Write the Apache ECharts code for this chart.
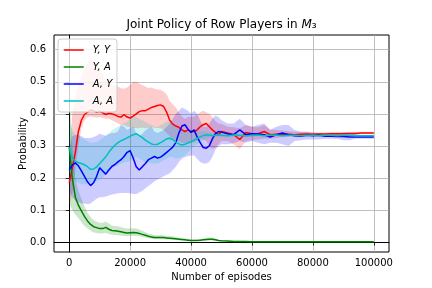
<!DOCTYPE html>
<html><head><meta charset="utf-8">
<script src="https://cdn.jsdelivr.net/npm/echarts@6/dist/echarts.min.js"></script>
<style>html,body{margin:0;padding:0;background:#fff}#c{width:432px;height:288px}</style>
</head><body><div id="c"></div>
<script>
const episodes = [0,1000,2000,3000,4000,5000,6000,7000,8000,9000,10000,11000,12000,13000,14000,15000,16000,17000,18000,19000,20000,21000,22000,23000,24000,25000,26000,27000,28000,29000,30000,31000,32000,33000,34000,35000,36000,37000,38000,39000,40000,41000,42000,43000,44000,45000,46000,47000,48000,49000,50000,52000,54000,56000,58000,60000,62000,64000,66000,68000,70000,72000,74000,76000,78000,80000,82000,84000,86000,88000,90000,92000,94000,96000,98000,100000];

// Y,Y (red)
const yyMean = [0.185,0.23,0.28,0.345,0.38,0.398,0.405,0.412,0.41,0.405,0.408,0.403,0.398,0.402,0.4,0.397,0.392,0.39,0.398,0.39,0.387,0.393,0.4,0.407,0.41,0.41,0.415,0.42,0.423,0.426,0.428,0.423,0.405,0.38,0.368,0.362,0.358,0.35,0.345,0.35,0.345,0.345,0.35,0.36,0.366,0.37,0.36,0.35,0.342,0.335,0.345,0.34,0.335,0.32,0.342,0.338,0.338,0.345,0.335,0.336,0.337,0.336,0.335,0.336,0.337,0.336,0.337,0.337,0.338,0.338,0.338,0.339,0.339,0.34,0.34,0.34];
const yyLow = [0.11,0.15,0.22,0.3,0.355,0.38,0.39,0.392,0.39,0.388,0.39,0.388,0.385,0.385,0.38,0.375,0.37,0.365,0.365,0.36,0.358,0.355,0.355,0.356,0.357,0.355,0.356,0.358,0.357,0.356,0.355,0.35,0.34,0.33,0.322,0.318,0.314,0.31,0.308,0.31,0.31,0.31,0.315,0.32,0.32,0.315,0.3,0.29,0.295,0.305,0.315,0.315,0.305,0.29,0.315,0.318,0.32,0.322,0.322,0.325,0.327,0.328,0.33,0.331,0.332,0.332,0.333,0.333,0.334,0.334,0.335,0.335,0.335,0.336,0.336,0.336];
const yyHigh = [0.26,0.4,0.45,0.49,0.515,0.54,0.56,0.57,0.565,0.55,0.535,0.52,0.505,0.492,0.487,0.49,0.485,0.48,0.478,0.482,0.49,0.5,0.5,0.495,0.49,0.485,0.48,0.482,0.478,0.476,0.475,0.47,0.46,0.44,0.43,0.42,0.405,0.392,0.385,0.39,0.39,0.392,0.398,0.405,0.41,0.405,0.4,0.39,0.378,0.37,0.368,0.36,0.358,0.355,0.365,0.36,0.358,0.365,0.352,0.35,0.348,0.346,0.344,0.343,0.343,0.342,0.342,0.342,0.343,0.343,0.343,0.343,0.344,0.344,0.344,0.344];

// Y,A (green)
const yaMean = [0.295,0.2,0.14,0.115,0.097,0.08,0.066,0.055,0.048,0.045,0.042,0.042,0.046,0.04,0.036,0.035,0.034,0.032,0.03,0.028,0.029,0.03,0.029,0.027,0.024,0.021,0.018,0.016,0.014,0.014,0.014,0.014,0.013,0.012,0.011,0.01,0.009,0.008,0.007,0.006,0.005,0.005,0.005,0.006,0.007,0.008,0.009,0.009,0.007,0.005,0.004,0.003,0.002,0.002,0.002,0.001,0.001,0.001,0.001,0.001,0.001,0.001,0.001,0.001,0.001,0.001,0.001,0.001,0.001,0.001,0.001,0.001,0.001,0.001,0.001,0.001];
const yaLow = [0.12,0.1,0.085,0.075,0.062,0.05,0.042,0.035,0.03,0.028,0.027,0.027,0.028,0.025,0.023,0.022,0.021,0.02,0.019,0.018,0.019,0.02,0.019,0.018,0.016,0.014,0.012,0.01,0.009,0.009,0.009,0.009,0.008,0.008,0.007,0.006,0.006,0.005,0.004,0.003,0.003,0.003,0.003,0.003,0.004,0.004,0.005,0.005,0.004,0.003,0.002,0.001,0.001,0.001,0.001,0,0,0,0,0,0,0,0,0,0,0,0,0,0,0,0,0,0,0,0,0];
const yaHigh = [0.47,0.3,0.2,0.16,0.135,0.112,0.092,0.078,0.068,0.063,0.06,0.06,0.064,0.058,0.052,0.05,0.049,0.047,0.044,0.042,0.042,0.043,0.042,0.039,0.035,0.031,0.027,0.024,0.021,0.021,0.021,0.021,0.02,0.019,0.018,0.016,0.014,0.012,0.011,0.01,0.008,0.008,0.008,0.009,0.011,0.013,0.014,0.014,0.011,0.008,0.006,0.005,0.004,0.004,0.003,0.002,0.002,0.002,0.002,0.002,0.002,0.002,0.002,0.002,0.002,0.002,0.002,0.002,0.002,0.002,0.002,0.002,0.002,0.002,0.002,0.002];

// A,Y (blue)
const ayMean = [0.225,0.24,0.247,0.238,0.222,0.205,0.188,0.176,0.185,0.205,0.232,0.222,0.212,0.225,0.236,0.242,0.25,0.257,0.267,0.28,0.285,0.262,0.235,0.225,0.235,0.245,0.257,0.262,0.267,0.262,0.265,0.272,0.28,0.288,0.296,0.31,0.34,0.362,0.366,0.352,0.342,0.35,0.328,0.31,0.295,0.293,0.3,0.322,0.338,0.345,0.343,0.338,0.335,0.35,0.335,0.338,0.337,0.335,0.328,0.335,0.34,0.335,0.332,0.33,0.333,0.332,0.333,0.33,0.33,0.329,0.329,0.328,0.328,0.328,0.328,0.328];
const ayLow = [0.16,0.14,0.13,0.125,0.12,0.12,0.118,0.12,0.128,0.135,0.14,0.14,0.142,0.145,0.148,0.15,0.152,0.153,0.153,0.153,0.152,0.15,0.15,0.155,0.16,0.168,0.175,0.182,0.19,0.195,0.2,0.205,0.21,0.215,0.225,0.235,0.25,0.26,0.265,0.268,0.27,0.27,0.26,0.25,0.245,0.245,0.25,0.265,0.288,0.3,0.305,0.305,0.308,0.315,0.31,0.315,0.31,0.305,0.31,0.31,0.305,0.3,0.315,0.318,0.32,0.32,0.32,0.322,0.322,0.322,0.318,0.318,0.322,0.322,0.322,0.322];
const ayHigh = [0.29,0.33,0.335,0.335,0.33,0.325,0.325,0.325,0.328,0.332,0.338,0.335,0.332,0.336,0.34,0.34,0.345,0.365,0.36,0.35,0.355,0.36,0.34,0.33,0.338,0.348,0.355,0.36,0.345,0.34,0.345,0.35,0.36,0.37,0.385,0.4,0.41,0.42,0.415,0.41,0.4,0.41,0.4,0.38,0.36,0.36,0.37,0.385,0.395,0.39,0.38,0.37,0.37,0.385,0.365,0.36,0.365,0.37,0.35,0.36,0.365,0.365,0.35,0.345,0.345,0.342,0.34,0.338,0.338,0.338,0.342,0.342,0.335,0.334,0.334,0.334];

// A,A (cyan)
const aaMean = [0.295,0.262,0.252,0.248,0.245,0.241,0.235,0.227,0.228,0.234,0.245,0.255,0.266,0.28,0.292,0.302,0.31,0.316,0.32,0.325,0.33,0.335,0.338,0.332,0.326,0.318,0.312,0.306,0.304,0.305,0.31,0.316,0.322,0.324,0.32,0.312,0.306,0.303,0.305,0.309,0.313,0.318,0.323,0.328,0.332,0.335,0.334,0.332,0.333,0.334,0.333,0.332,0.334,0.333,0.331,0.333,0.334,0.332,0.333,0.334,0.332,0.333,0.333,0.332,0.333,0.333,0.332,0.333,0.333,0.332,0.333,0.333,0.332,0.332,0.332,0.332];
const aaLow = [0.22,0.2,0.19,0.185,0.18,0.18,0.18,0.18,0.185,0.19,0.195,0.2,0.21,0.22,0.23,0.235,0.24,0.245,0.248,0.25,0.252,0.26,0.265,0.26,0.255,0.25,0.25,0.245,0.245,0.245,0.25,0.255,0.26,0.265,0.265,0.26,0.262,0.265,0.27,0.28,0.29,0.3,0.305,0.31,0.318,0.322,0.325,0.325,0.326,0.327,0.327,0.327,0.328,0.328,0.327,0.328,0.329,0.328,0.329,0.33,0.329,0.33,0.33,0.33,0.33,0.33,0.33,0.33,0.33,0.33,0.33,0.33,0.33,0.33,0.33,0.33];
const aaHigh = [0.38,0.35,0.335,0.33,0.325,0.32,0.315,0.31,0.31,0.312,0.318,0.325,0.332,0.34,0.348,0.355,0.36,0.365,0.37,0.375,0.385,0.39,0.39,0.385,0.38,0.375,0.37,0.365,0.36,0.36,0.365,0.37,0.375,0.375,0.37,0.36,0.355,0.35,0.35,0.35,0.35,0.348,0.347,0.346,0.345,0.343,0.342,0.34,0.34,0.339,0.339,0.338,0.339,0.338,0.337,0.338,0.338,0.337,0.337,0.337,0.336,0.336,0.336,0.335,0.336,0.336,0.335,0.335,0.336,0.335,0.335,0.335,0.335,0.335,0.335,0.335];

const seriesNames = ['Y, Y', 'Y, A', 'A, Y', 'A, A'];
const xTicks = [0, 20000, 40000, 60000, 80000, 100000];
const yTicks = [0.0, 0.1, 0.2, 0.3, 0.4, 0.5, 0.6];

const FONT = 'DejaVu Sans';
const colors = ['#ff0000', '#008000', '#0000ff', '#00bfbf'];
const fills = ['rgba(255,0,0,0.2)', 'rgba(0,128,0,0.2)', 'rgba(0,0,255,0.2)', 'rgba(0,191,191,0.2)'];
const means = [yyMean, yaMean, ayMean, aaMean];
const lows = [yyLow, yaLow, ayLow, aaLow];
const highs = [yyHigh, yaHigh, ayHigh, aaHigh];

function bandSeries(k) {
  const rows = episodes.map((e, i) => [e, lows[k][i], highs[k][i]]);
  return {
    type: 'custom', name: 'band' + k, z: 1, silent: true, animation: false,
    encode: { x: 0, y: [1, 2] },
    data: rows,
    renderItem: function (params, api) {
      if (params.dataIndex !== 0) return null;
      const pts = [];
      for (let i = 0; i < rows.length; i++) pts.push(api.coord([rows[i][0], rows[i][2]]));
      for (let i = rows.length - 1; i >= 0; i--) pts.push(api.coord([rows[i][0], rows[i][1]]));
      return { type: 'polygon', shape: { points: pts }, style: { fill: fills[k], stroke: null } };
    }
  };
}
function lineSeries(k) {
  return {
    type: 'line', name: seriesNames[k], z: 2, animation: false,
    symbol: 'none', showSymbol: false,
    data: episodes.map((e, i) => [e, means[k][i]]),
    lineStyle: { color: colors[k], width: 1.5 },
    itemStyle: { color: colors[k] }
  };
}

const chart = echarts.init(document.getElementById('c'), null, { renderer: 'canvas' });
chart.setOption({
  animation: false,
  backgroundColor: '#ffffff',
  grid: { left: 54, right: 43, top: 35, bottom: 36, show: true, borderColor: '#000', borderWidth: 1, backgroundColor: 'transparent' },
  graphic: [{
    type: 'text', x: 221.5, y: 25, z: 10,
    style: {
      text: '{a|Joint Policy of Row Players in }{m|M}{a|₃}',
      align: 'center', verticalAlign: 'middle',
      rich: {
        a: { fontFamily: FONT, fontSize: 12, fill: '#000' },
        m: { fontFamily: FONT, fontSize: 12, fontStyle: 'italic', fill: '#000' }
      }
    }
  }],
  legend: {
    data: seriesNames, orient: 'vertical', left: 58, top: 39,
    backgroundColor: 'rgba(255,255,255,0.8)', borderColor: '#cccccc', borderWidth: 1, borderRadius: 3,
    padding: [6, 4, 6, 5], itemWidth: 20, itemHeight: 12, itemGap: 7,
    itemStyle: { opacity: 0 },
    lineStyle: { width: 1.5 },
    textStyle: { fontFamily: FONT, fontStyle: 'italic', fontSize: 10, color: '#000', padding: [0, 0, 0, 4] }
  },
  xAxis: {
    type: 'value', min: -5000, max: 105000,
    name: 'Number of episodes', nameLocation: 'middle', nameGap: 20, nameMoveOverlap: false,
    nameTextStyle: { fontFamily: FONT, fontSize: 10, color: '#000' },
    axisLine: { show: true, lineStyle: { color: '#000', width: 1 } },
    axisTick: { show: true, customValues: xTicks, length: 3.5, lineStyle: { color: '#000', width: 0.8 } },
    axisLabel: { customValues: xTicks, margin: 6, fontFamily: FONT, fontSize: 10, color: '#000', formatter: v => String(v) },
    splitLine: { show: true, lineStyle: { color: '#b0b0b0', width: 0.8 } }
  },
  yAxis: {
    type: 'value', min: -0.031, max: 0.646,
    name: 'Probability', nameLocation: 'middle', nameGap: 26, nameMoveOverlap: false,
    nameTextStyle: { fontFamily: FONT, fontSize: 10, color: '#000' },
    axisLine: { show: true, lineStyle: { color: '#000', width: 1 } },
    axisTick: { show: true, customValues: yTicks, length: 3.5, lineStyle: { color: '#000', width: 0.8 } },
    axisLabel: { customValues: yTicks, margin: 8, fontFamily: FONT, fontSize: 10, color: '#000', formatter: v => v.toFixed(1) },
    splitLine: { show: true, lineStyle: { color: '#b0b0b0', width: 0.8 } }
  },
  series: [bandSeries(0), bandSeries(1), bandSeries(2), bandSeries(3), lineSeries(0), lineSeries(1), lineSeries(2), lineSeries(3)]
});
</script></body></html>
